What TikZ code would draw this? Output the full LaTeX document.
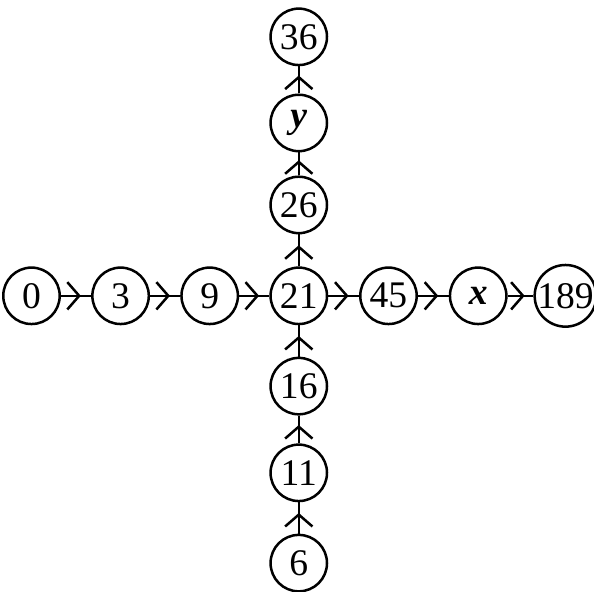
\documentclass[tikz,border=0pt]{standalone}
\usepackage{fontspec}
\setmainfont{Liberation Serif}
\usepackage{tikz}
\usetikzlibrary{arrows.meta,decorations.markings}

\begin{document}
\begin{tikzpicture}[
  font=\fontsize{18}{20}\selectfont,
  num/.style={draw, circle, line width=1.2pt, minimum size=0.95cm, inner sep=0pt},
  arr/.style={line width=1.2pt, postaction={decorate},
              decoration={markings, mark=at position 0.66 with {\arrow{Straight Barb[length=2mm,width=4.6mm,line width=1.2pt]}}}},
]
\useasboundingbox (-5.03,-4.98) rectangle (4.97,4.98);
% horizontal row
\node[num] (n0)   at (-4.5,0) {0};
\node[num] (n3)   at (-3.0,0) {3};
\node[num] (n9)   at (-1.5,0) {9};
\node[num] (n21)  at (0,0)    {21};
\node[num] (n45)  at (1.51,0) {45};
\node[num] (nx)   at (3.02,0) {\bfseries\itshape x};
\node[num] (n189) at (4.49,0) {189};
% vertical column
\node[num] (n6)   at (0,-4.5)  {6};
\node[num] (n11)  at (0,-2.98) {11};
\node[num] (n16)  at (0,-1.52) {16};
\node[num] (n26)  at (0,1.53)  {26};
\node[num] (ny)   at (0,2.91)  {\bfseries\itshape y};
\node[num] (n36)  at (0,4.36)  {36};
% connectors
\draw[arr] (n0) -- (n3);
\draw[arr] (n3) -- (n9);
\draw[arr] (n9) -- (n21);
\draw[arr] (n21) -- (n45);
\draw[arr] (n45) -- (nx);
\draw[arr] (nx) -- (n189);
\draw[arr] (n6) -- (n11);
\draw[arr] (n11) -- (n16);
\draw[arr] (n16) -- (n21);
\draw[arr] (n21) -- (n26);
\draw[arr] (n26) -- (ny);
\draw[arr] (ny) -- (n36);
\end{tikzpicture}
\end{document}
